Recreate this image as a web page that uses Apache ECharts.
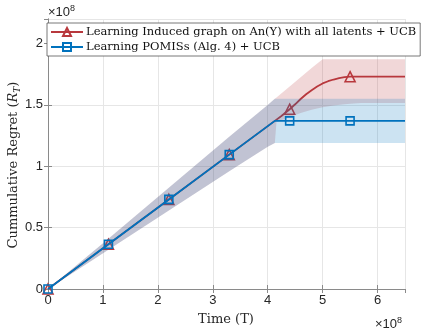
<!DOCTYPE html>
<html>
<head>
<meta charset="utf-8">
<script src="https://cdn.jsdelivr.net/npm/echarts@6/dist/echarts.min.js"></script>
<style>
  html, body { margin: 0; padding: 0; background: #fff; }
  #chart { width: 423px; height: 333px; }
</style>
</head>
<body>
<div id="chart"></div>
<script>
// time samples for the shaded bands, in units of 1e8
var bandT = [0, 1.1, 2.2, 3.3, 4.0, 4.13, 4.16, 4.4, 4.6, 4.8, 5.0, 5.2, 5.4, 5.5, 5.7, 6.5];
// where the markers sit
var markerT = [0, 1.1, 2.2, 3.3, 4.4, 5.5];

// Learning Induced graph on An(Y) with all latents + UCB (units of 1e8)
var redT     = [0, 1.1, 2.2, 3.3, 4.13, 4.25, 4.4, 4.5, 4.6, 4.7, 4.8, 4.9, 5.0, 5.1, 5.2, 5.3, 5.4, 5.5, 6.5];
var redMean  = [0, 0.365, 0.73, 1.095, 1.37, 1.41, 1.465, 1.505, 1.548, 1.587, 1.62, 1.65, 1.675, 1.693, 1.707, 1.718, 1.726, 1.73, 1.73];
var redLower = [0, 0.32, 0.64, 0.96, 1.16, 1.19, 1.36, 1.40, 1.435, 1.46, 1.48, 1.495, 1.505, 1.51, 1.515, 1.515];
var redUpper = [0, 0.41, 0.825, 1.24, 1.50, 1.55, 1.56, 1.65, 1.725, 1.80, 1.873, 1.873, 1.873, 1.873, 1.873, 1.873];

// Learning POMISs (Alg. 4) + UCB (units of 1e8)
var blueT     = [0, 1.1, 2.2, 3.3, 4.13, 4.4, 5.5, 6.5];
var blueMean  = [0, 0.365, 0.73, 1.095, 1.37, 1.37, 1.37, 1.37];
var blueLower = [0, 0.32, 0.64, 0.96, 1.16, 1.19, 1.19, 1.19, 1.19, 1.19, 1.19, 1.19, 1.19, 1.19, 1.19, 1.19];
var blueUpper = [0, 0.41, 0.825, 1.24, 1.50, 1.55, 1.55, 1.55, 1.55, 1.55, 1.55, 1.55, 1.55, 1.55, 1.55, 1.55];

var xTicks = [0, 1, 2, 3, 4, 5, 6];
var yTicks = [0, 0.5, 1, 1.5, 2];

var legendNames = [
  'Learning Induced graph on An(Y) with all latents + UCB',
  'Learning POMISs (Alg. 4) + UCB'
];

var RED = '#b8383d';
var BLUE = '#0072bd';
var SERIF = '"DejaVu Serif", "Liberation Serif", serif';
var SANS = '"Liberation Sans", Arial, sans-serif';

function linePoints (times, values) {
  var pts = [];
  for (var i = 0; i < times.length; i++) {
    var isMarker = markerT.indexOf(times[i]) >= 0;
    pts.push(isMarker ? {value: [times[i], values[i]]} : {value: [times[i], values[i]], symbol: 'none'});
  }
  return pts;
}

// shaded band between lower and upper, drawn as one polygon on the axes
function bandSeries (lower, upper, color, z) {
  return {
    type: 'custom', silent: true, clip: true, z: z,
    data: [[0, 0]],
    renderItem: function (params, api) {
      var pts = [];
      for (var i = 0; i < bandT.length; i++) pts.push(api.coord([bandT[i], upper[i]]));
      for (var j = bandT.length - 1; j >= 0; j--) pts.push(api.coord([bandT[j], lower[j]]));
      return {type: 'polygon', shape: {points: pts}, style: {fill: color, opacity: 0.2}};
    }
  };
}

function lineSeries (name, times, values, color, symbol, size, z) {
  return {
    name: name, type: 'line', data: linePoints(times, values), z: z,
    symbol: symbol, symbolSize: size, showAllSymbol: true,
    lineStyle: {color: color, width: 1.8},
    itemStyle: {color: 'rgba(255,255,255,0)', borderColor: color, borderWidth: 1.6}
  };
}

// drawing order: red band, red line, blue band (fades the red), blue line
var series = [
  bandSeries(redLower, redUpper, RED, 1),
  lineSeries(legendNames[0], redT, redMean, RED, 'triangle', 10, 2),
  bandSeries(blueLower, blueUpper, BLUE, 3),
  lineSeries(legendNames[1], blueT, blueMean, BLUE, 'rect', 8, 4)
];

var axisCommon = {
  type: 'value',
  axisLine: {show: true, lineStyle: {color: '#8a8a8a'}},
  axisTick: {show: true, inside: true, length: 4, lineStyle: {color: '#8a8a8a'}},
  splitLine: {show: false}
};

var option = {
  animation: false,
  grid: {left: 48, right: 18, top: 19, bottom: 44, show: false},
  xAxis: [
    Object.assign({}, axisCommon, {
      min: 0, max: 6.5, interval: 1,
      axisLabel: {fontFamily: SANS, fontSize: 13, color: '#262626', margin: 5, showMaxLabel: false,
        formatter: function (v) { return xTicks.indexOf(v) >= 0 ? String(v) : ''; }},
      splitLine: {show: true, lineStyle: {color: '#e6e6e6'}}
    }),
    Object.assign({}, axisCommon, {min: 0, max: 6.5, interval: 1, position: 'top', axisLabel: {show: false}})
  ],
  yAxis: [
    Object.assign({}, axisCommon, {
      min: 0, max: 2.2, interval: 0.5,
      axisLabel: {fontFamily: SANS, fontSize: 13, color: '#262626', margin: 5, showMaxLabel: false,
        formatter: function (v) { return yTicks.indexOf(v) >= 0 ? String(v) : ''; }},
      splitLine: {show: true, lineStyle: {color: '#e6e6e6'}}
    }),
    Object.assign({}, axisCommon, {min: 0, max: 2.2, interval: 0.5, position: 'right', axisLabel: {show: false}})
  ],
  legend: {
    data: legendNames,
    orient: 'vertical',
    left: 47, top: 23, z: 10,
    padding: [3, 4, 3, 3],
    itemWidth: 32, itemHeight: 10, itemGap: 3,
    backgroundColor: '#fff',
    borderColor: '#555', borderWidth: 0.8,
    textStyle: {fontFamily: SERIF, fontSize: 11.5, color: '#111', padding: [0, 0, 0, -2]}
  },
  graphic: [
    {type: 'text', x: 48, y: 4, style: {text: '{a|×10}{s|8}', fill: '#262626',
      rich: {a: {fontFamily: SANS, fontSize: 13, verticalAlign: 'bottom'}, s: {fontFamily: SANS, fontSize: 9, verticalAlign: 'top', padding: [0, 0, 6, 0]}}}},
    {type: 'text', x: 375, y: 316, style: {text: '{a|×10}{s|8}', fill: '#262626',
      rich: {a: {fontFamily: SANS, fontSize: 13, verticalAlign: 'bottom'}, s: {fontFamily: SANS, fontSize: 9, verticalAlign: 'top', padding: [0, 0, 6, 0]}}}},
    {type: 'text', x: 226, y: 320, style: {text: 'Time (T)', fontFamily: SERIF, fontSize: 13, fill: '#262626',
      align: 'center', verticalAlign: 'middle'}},
    {type: 'text', x: 14, y: 165, rotation: Math.PI / 2, style: {
      text: '{a|Cummulative Regret (}{i|R}{s|T}{a|)}', fill: '#262626', align: 'center', verticalAlign: 'middle',
      rich: {
        a: {fontFamily: SERIF, fontSize: 13},
        i: {fontFamily: SERIF, fontSize: 13, fontStyle: 'italic'},
        s: {fontFamily: SERIF, fontSize: 9, fontStyle: 'italic', padding: [7, 0, 0, 0]}
      }}}
  ],
  series: series
};

var chart = echarts.init(document.getElementById('chart'));
chart.setOption(option);
</script>
</body>
</html>
